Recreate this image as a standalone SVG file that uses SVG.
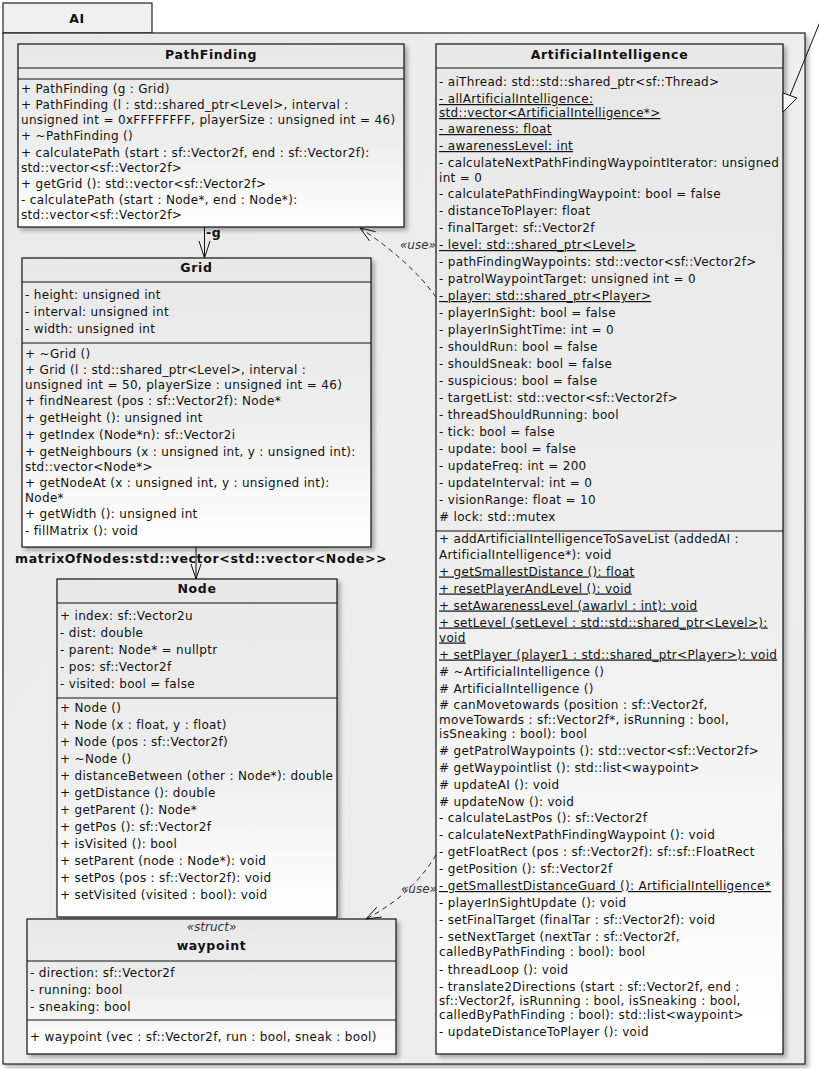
<svg xmlns="http://www.w3.org/2000/svg" width="819" height="1069" viewBox="0 0 819 1069">
<defs>
<linearGradient id="boxg" x1="0" y1="0" x2="0" y2="1">
<stop offset="0" stop-color="#e8e8e8"/>
<stop offset="0.55" stop-color="#eeeeee"/>
<stop offset="1" stop-color="#ffffff"/>
</linearGradient>
<linearGradient id="pkgg" x1="0" y1="0" x2="1" y2="1">
<stop offset="0" stop-color="#e9e9e9"/>
<stop offset="0.5" stop-color="#eeeeee"/>
<stop offset="1" stop-color="#ebebeb"/>
</linearGradient>
<filter id="sh" x="-5%" y="-5%" width="115%" height="115%">
<feDropShadow dx="3" dy="3" stdDeviation="2" flood-color="#000" flood-opacity="0.3"/>
</filter>
<style>
.t{font-family:"DejaVu Sans",Verdana,sans-serif;font-size:12px;letter-spacing:0.32px;fill:#111}
.b{font-family:"DejaVu Sans",Verdana,sans-serif;font-weight:bold;font-size:12.5px;letter-spacing:0.65px;fill:#111}
.m{text-anchor:middle}
.u{text-decoration:underline}
.i{font-family:"DejaVu Sans",Verdana,sans-serif;font-style:italic;font-size:12px;fill:#333}
.box{fill:url(#boxg);stroke:#111;stroke-width:1.2;filter:url(#sh)}
.sep{stroke:#111;stroke-width:1.2}
.ln{fill:none;stroke:#111;stroke-width:1}
.dash{fill:none;stroke:#222;stroke-width:1;stroke-dasharray:5,4}
</style>
</defs>
<rect width="819" height="1069" fill="#ffffff"/>
<g id="pkg-AI">
<rect x="3" y="3" width="149" height="30" fill="#f0f0f0" stroke="#222" stroke-width="1.2"/>
<rect x="3" y="33" width="802" height="1031" fill="url(#pkgg)" stroke="#222" stroke-width="1.2" filter="url(#sh)"/>
<text class="b m" x="77" y="23">AI</text>
</g>
<g id="PathFinding">
<rect class="box" x="18" y="44" width="386" height="183"/>
<line class="sep" x1="18" y1="68" x2="404" y2="68"/>
<line class="sep" x1="18" y1="79" x2="404" y2="79"/>
<text class="b m" x="211" y="58.5">PathFinding</text>
<text class="t" x="21" y="93">+ PathFinding (g : Grid)</text>
<text class="t" x="21" y="109">+ PathFinding (l : std::shared_ptr&lt;Level&gt;, interval :</text>
<text class="t" x="21" y="123.5">unsigned int = 0xFFFFFFFF, playerSize : unsigned int = 46)</text>
<text class="t" x="21" y="140">+ ~PathFinding ()</text>
<text class="t" x="21" y="157">+ calculatePath (start : sf::Vector2f, end : sf::Vector2f):</text>
<text class="t" x="21" y="171.5">std::vector&lt;sf::Vector2f&gt;</text>
<text class="t" x="21" y="188">+ getGrid (): std::vector&lt;sf::Vector2f&gt;</text>
<text class="t" x="21" y="204">- calculatePath (start : Node*, end : Node*):</text>
<text class="t" x="21" y="219">std::vector&lt;sf::Vector2f&gt;</text>
</g>
<g id="Grid">
<rect class="box" x="22" y="258" width="349" height="289"/>
<line class="sep" x1="22" y1="282" x2="371" y2="282"/>
<line class="sep" x1="22" y1="343" x2="371" y2="343"/>
<text class="b m" x="196.5" y="272">Grid</text>
<text class="t" x="25" y="299">- height: unsigned int</text>
<text class="t" x="25" y="316">- interval: unsigned int</text>
<text class="t" x="25" y="333">- width: unsigned int</text>
<text class="t" x="25" y="357.5">+ ~Grid ()</text>
<text class="t" x="25" y="374">+ Grid (l : std::shared_ptr&lt;Level&gt;, interval :</text>
<text class="t" x="25" y="388.5">unsigned int = 50, playerSize : unsigned int = 46)</text>
<text class="t" x="25" y="405">+ findNearest (pos : sf::Vector2f): Node*</text>
<text class="t" x="25" y="422">+ getHeight (): unsigned int</text>
<text class="t" x="25" y="439">+ getIndex (Node*n): sf::Vector2i</text>
<text class="t" x="25" y="455.5">+ getNeighbours (x : unsigned int, y : unsigned int):</text>
<text class="t" x="25" y="470.5">std::vector&lt;Node*&gt;</text>
<text class="t" x="25" y="487">+ getNodeAt (x : unsigned int, y : unsigned int):</text>
<text class="t" x="25" y="501.5">Node*</text>
<text class="t" x="25" y="518">+ getWidth (): unsigned int</text>
<text class="t" x="25" y="535">- fillMatrix (): void</text>
</g>
<g id="Node">
<rect class="box" x="57" y="579" width="280" height="338"/>
<line class="sep" x1="57" y1="603" x2="337" y2="603"/>
<line class="sep" x1="57" y1="698" x2="337" y2="698"/>
<text class="b m" x="197" y="593">Node</text>
<text class="t" x="60" y="620">+ index: sf::Vector2u</text>
<text class="t" x="60" y="637">- dist: double</text>
<text class="t" x="60" y="654">- parent: Node* = nullptr</text>
<text class="t" x="60" y="671">- pos: sf::Vector2f</text>
<text class="t" x="60" y="688">- visited: bool = false</text>
<text class="t" x="60" y="712">+ Node ()</text>
<text class="t" x="60" y="729">+ Node (x : float, y : float)</text>
<text class="t" x="60" y="746">+ Node (pos : sf::Vector2f)</text>
<text class="t" x="60" y="763">+ ~Node ()</text>
<text class="t" x="60" y="780">+ distanceBetween (other : Node*): double</text>
<text class="t" x="60" y="797">+ getDistance (): double</text>
<text class="t" x="60" y="814">+ getParent (): Node*</text>
<text class="t" x="60" y="831">+ getPos (): sf::Vector2f</text>
<text class="t" x="60" y="848">+ isVisited (): bool</text>
<text class="t" x="60" y="865">+ setParent (node : Node*): void</text>
<text class="t" x="60" y="882">+ setPos (pos : sf::Vector2f): void</text>
<text class="t" x="60" y="899">+ setVisited (visited : bool): void</text>
</g>
<g id="waypoint">
<rect class="box" x="27" y="919" width="369" height="135"/>
<line class="sep" x1="27" y1="961" x2="396" y2="961"/>
<line class="sep" x1="27" y1="1020" x2="396" y2="1020"/>
<text class="i m" x="211.5" y="931">«struct»</text>
<text class="b m" x="211.5" y="950">waypoint</text>
<text class="t" x="30" y="977">- direction: sf::Vector2f</text>
<text class="t" x="30" y="993.5">- running: bool</text>
<text class="t" x="30" y="1010.5">- sneaking: bool</text>
<text class="t" x="30" y="1040.5">+ waypoint (vec : sf::Vector2f, run : bool, sneak : bool)</text>
</g>
<g id="ArtificialIntelligence">
<rect class="box" x="436" y="44" width="347" height="1010"/>
<line class="sep" x1="436" y1="68" x2="783" y2="68"/>
<line class="sep" x1="436" y1="531" x2="783" y2="531"/>
<text class="b m" x="609.5" y="58.5">ArtificialIntelligence</text>
<text class="t" x="439" y="85.5">- aiThread: std::std::shared_ptr&lt;sf::Thread&gt;</text>
<text class="t u" x="439" y="103">- allArtificialIntelligence:</text>
<text class="t u" x="439" y="117">std::vector&lt;ArtificialIntelligence*&gt;</text>
<text class="t u" x="439" y="133">- awareness: float</text>
<text class="t u" x="439" y="150">- awarenessLevel: int</text>
<text class="t" x="439" y="166.5">- calculateNextPathFindingWaypointIterator: unsigned</text>
<text class="t" x="439" y="181.5">int = 0</text>
<text class="t" x="439" y="198">- calculatePathFindingWaypoint: bool = false</text>
<text class="t" x="439" y="215">- distanceToPlayer: float</text>
<text class="t" x="439" y="231.5">- finalTarget: sf::Vector2f</text>
<text class="t u" x="439" y="249">- level: std::shared_ptr&lt;Level&gt;</text>
<text class="t" x="439" y="266">- pathFindingWaypoints: std::vector&lt;sf::Vector2f&gt;</text>
<text class="t" x="439" y="283">- patrolWaypointTarget: unsigned int = 0</text>
<text class="t u" x="439" y="300">- player: std::shared_ptr&lt;Player&gt;</text>
<text class="t" x="439" y="316.5">- playerInSight: bool = false</text>
<text class="t" x="439" y="333.5">- playerInSightTime: int = 0</text>
<text class="t" x="439" y="351">- shouldRun: bool = false</text>
<text class="t" x="439" y="368">- shouldSneak: bool = false</text>
<text class="t" x="439" y="385">- suspicious: bool = false</text>
<text class="t" x="439" y="401.5">- targetList: std::vector&lt;sf::Vector2f&gt;</text>
<text class="t" x="439" y="418.5">- threadShouldRunning: bool</text>
<text class="t" x="439" y="435.5">- tick: bool = false</text>
<text class="t" x="439" y="452.5">- update: bool = false</text>
<text class="t" x="439" y="469.5">- updateFreq: int = 200</text>
<text class="t" x="439" y="486.5">- updateInterval: int = 0</text>
<text class="t" x="439" y="503.5">- visionRange: float = 10</text>
<text class="t" x="439" y="520.5"># lock: std::mutex</text>
<text class="t" x="439" y="542.5">+ addArtificialIntelligenceToSaveList (addedAI :</text>
<text class="t" x="439" y="558.5">ArtificialIntelligence*): void</text>
<text class="t u" x="439" y="575.5">+ getSmallestDistance (): float</text>
<text class="t u" x="439" y="592.5">+ resetPlayerAndLevel (): void</text>
<text class="t u" x="439" y="609.5">+ setAwarenessLevel (awarlvl : int): void</text>
<text class="t u" x="439" y="626.5">+ setLevel (setLevel : std::std::shared_ptr&lt;Level&gt;):</text>
<text class="t u" x="439" y="641.5">void</text>
<text class="t u" x="439" y="658.5">+ setPlayer (player1 : std::shared_ptr&lt;Player&gt;): void</text>
<text class="t" x="439" y="675.5"># ~ArtificialIntelligence ()</text>
<text class="t" x="439" y="692.5"># ArtificialIntelligence ()</text>
<text class="t" x="439" y="709"># canMovetowards (position : sf::Vector2f,</text>
<text class="t" x="439" y="724">moveTowards : sf::Vector2f*, isRunning : bool,</text>
<text class="t" x="439" y="738">isSneaking : bool): bool</text>
<text class="t" x="439" y="754.5"># getPatrolWaypoints (): std::vector&lt;sf::Vector2f&gt;</text>
<text class="t" x="439" y="771.5"># getWaypointlist (): std::list&lt;waypoint&gt;</text>
<text class="t" x="439" y="788.5"># updateAI (): void</text>
<text class="t" x="439" y="805.5"># updateNow (): void</text>
<text class="t" x="439" y="821.5">- calculateLastPos (): sf::Vector2f</text>
<text class="t" x="439" y="839">- calculateNextPathFindingWaypoint (): void</text>
<text class="t" x="439" y="855.5">- getFloatRect (pos : sf::Vector2f): sf::sf::FloatRect</text>
<text class="t" x="439" y="873">- getPosition (): sf::Vector2f</text>
<text class="t u" x="439" y="890">- getSmallestDistanceGuard (): ArtificialIntelligence*</text>
<text class="t" x="439" y="907">- playerInSightUpdate (): void</text>
<text class="t" x="439" y="924">- setFinalTarget (finalTar : sf::Vector2f): void</text>
<text class="t" x="439" y="940.5">- setNextTarget (nextTar : sf::Vector2f,</text>
<text class="t" x="439" y="955.5">calledByPathFinding : bool): bool</text>
<text class="t" x="439" y="974">- threadLoop (): void</text>
<text class="t" x="439" y="990.5">- translate2Directions (start : sf::Vector2f, end :</text>
<text class="t" x="439" y="1005">sf::Vector2f, isRunning : bool, isSneaking : bool,</text>
<text class="t" x="439" y="1019">calledByPathFinding : bool): std::list&lt;waypoint&gt;</text>
<text class="t" x="439" y="1035.5">- updateDistanceToPlayer (): void</text>
</g>
<g id="connectors">
<line class="ln" x1="204.5" y1="227" x2="204.5" y2="258"/>
<polyline class="ln" points="199,241 204.5,258 210,241"/>
<text class="b" x="206" y="237">-g</text>
<line class="ln" x1="196" y1="547" x2="196" y2="579"/>
<polyline class="ln" points="191,564 196,579 201,564"/>
<text class="b" x="15" y="563">matrixOfNodes:std::vector&lt;std::vector&lt;Node&gt;&gt;</text>
<path class="dash" d="M436,297 Q410,261 360,228"/>
<polyline class="ln" points="375.6,231.7 360,228 369.5,240.9"/>
<text class="i" x="436" y="249" text-anchor="end">«use»</text>
<path class="dash" d="M436,855 Q412,895 366,919"/>
<polyline class="ln" points="381.8,917 366,919 376.8,907.2"/>
<text class="i" x="437" y="893" text-anchor="end">«use»</text>
<line class="ln" x1="824" y1="12" x2="790" y2="95.5"/>
<polygon points="783,93 797,98 783,112" fill="#ffffff" stroke="#111" stroke-width="1"/>
</g>
</svg>
